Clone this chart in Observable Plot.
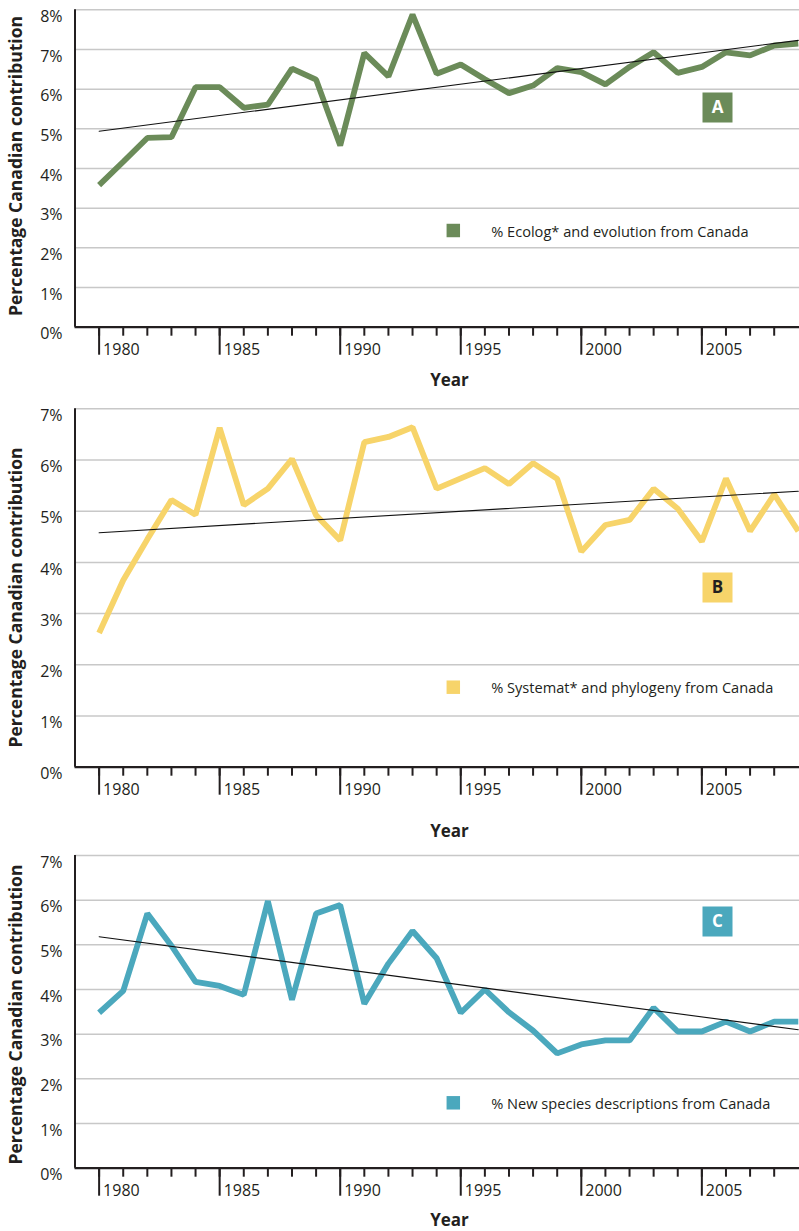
<!DOCTYPE html>
<html>
<head>
<meta charset="utf-8">
<script src="https://cdn.jsdelivr.net/npm/d3@7"></script>
<script src="https://cdn.jsdelivr.net/npm/@observablehq/plot@0.6"></script>
<style>
  html, body { margin: 0; padding: 0; background: #fff; }
  #chart { width: 799px; }
  #chart svg { display: block; }
</style>
</head>
<body>
<div id="chart"></div>
<script>
// ---- data ----
const years = [1980,1981,1982,1983,1984,1985,1986,1987,1988,1989,1990,1991,1992,1993,1994,1995,1996,1997,1998,1999,2000,2001,2002,2003,2004,2005,2006,2007,2008,2009];
const ecology = [3.58,4.17,4.77,4.79,6.05,6.05,5.53,5.61,6.52,6.24,4.58,6.91,6.32,7.88,6.39,6.62,6.25,5.90,6.09,6.53,6.43,6.12,6.56,6.93,6.41,6.56,6.93,6.85,7.10,7.15];
const systematics = [2.62,3.65,4.45,5.22,4.93,6.63,5.12,5.44,6.02,4.92,4.43,6.35,6.45,6.64,5.44,5.64,5.84,5.53,5.94,5.63,4.21,4.73,4.83,5.44,5.05,4.41,5.64,4.61,5.33,4.61];
const newSpecies = [3.48,3.97,5.70,4.98,4.17,4.08,3.88,5.98,3.77,5.70,5.89,3.68,4.58,5.31,4.70,3.48,4.00,3.49,3.08,2.57,2.77,2.86,2.86,3.59,3.06,3.06,3.28,3.06,3.28,3.28];
const trendYears = [1980, 2009];
const trendEcology = [4.94, 7.23];
const trendSystematics = [4.58, 5.39];
const trendNewSpecies = [5.18, 3.10];
const tickYears = [1980,1981,1982,1983,1984,1985,1986,1987,1988,1989,1990,1991,1992,1993,1994,1995,1996,1997,1998,1999,2000,2001,2002,2003,2004,2005,2006,2007,2008];
const majorYears = [1980,1985,1990,1995,2000,2005];
const yTicksA = [0,1,2,3,4,5,6,7,8];
const yTicksBC = [0,1,2,3,4,5,6,7];
const panelLetters = ["A","B","C"];
const legendLabels = ["% Ecolog* and evolution from Canada", "% Systemat* and phylogeny from Canada", "% New species descriptions from Canada"];
const yTitle = "Percentage Canadian contribution";
const xTitle = "Year";

// ---- drawing ----
const ink = "#231f20";
const left = 74.5;

function panel(cfg) {
  const rows = years.map((y, i) => ({year: y, value: cfg.values[i]}));
  const trend = trendYears.map((y, i) => ({year: y, value: cfg.trend[i]}));
  return Plot.plot({
    width: 799,
    height: cfg.height,
    marginTop: cfg.marginTop,
    marginBottom: cfg.marginBottom,
    marginLeft: left,
    marginRight: 0,
    style: {fontFamily: "'Open Sans', sans-serif", color: ink, background: "#fff", overflow: "visible"},
    x: {domain: [1979, 2009.05]},
    y: {domain: [0, cfg.yMax]},
    marks: [
      Plot.gridY(cfg.yTicks.slice(1), {stroke: "#c8c8c8", strokeOpacity: 1, strokeWidth: 1.5}),
      Plot.axisY(cfg.yTicks, {tickSize: 0, tickPadding: 12.5, dy: 7, fontSize: 16, fill: ink, tickFormat: d => d + "%", label: null}),
      Plot.axisX(tickYears, {tickSize: 9, tickFormat: () => "", stroke: ink, strokeWidth: 2, label: null}),
      Plot.axisX(majorYears, {tickSize: 28, tickFormat: () => "", stroke: ink, strokeWidth: 2, label: null}),
      Plot.axisX(majorYears, {tickSize: 0, tickPadding: 16.5, textAnchor: "start", dx: 4, fontSize: 16, fill: ink, tickFormat: d => String(d), label: null}),
      Plot.ruleX([1979], {stroke: ink, strokeWidth: 2}),
      Plot.ruleY([0], {stroke: ink, strokeWidth: 2.2}),
      Plot.line(rows, {x: "year", y: "value", stroke: cfg.color, strokeWidth: 5.8, strokeLinejoin: "miter", strokeLinecap: "butt"}),
      Plot.line(trend, {x: "year", y: "value", stroke: "#111", strokeWidth: 1.1}),
      // panel badge
      Plot.dot([cfg.letter], {frameAnchor: "top-left", dx: 642.5, dy: cfg.badgeDy, symbol: "square", r: 16.93, fill: cfg.color, stroke: "none"}),
      Plot.text([cfg.letter], {frameAnchor: "top-left", dx: 642.5, dy: cfg.badgeDy + 0.5, text: d => d, textAnchor: "middle", lineAnchor: "middle", fontSize: 17, fontWeight: "bold", fill: cfg.letterColor}),
      // legend
      Plot.dot([cfg.legend], {frameAnchor: "top-left", dx: 378.3, dy: cfg.legendDy, symbol: "square", r: 7.6, fill: cfg.color, stroke: "none"}),
      Plot.text([cfg.legend], {frameAnchor: "top-left", dx: 416.2, dy: cfg.legendDy + 1.5, text: d => d, textAnchor: "start", lineAnchor: "middle", fontSize: 14.6, fill: ink}),
      // axis titles
      Plot.text([yTitle], {frameAnchor: "left", dx: -59, dy: cfg.titleDy, rotate: -90, text: d => d, textAnchor: "middle", lineAnchor: "middle", fontSize: 17.5, fontWeight: "bold", fill: ink}),
      Plot.text([xTitle], {frameAnchor: "bottom-left", dx: 374.5, dy: cfg.yearDy, text: d => d, textAnchor: "middle", lineAnchor: "middle", fontSize: 17, fontWeight: "bold", fill: ink})
    ]
  });
}

const chart = document.getElementById("chart");
chart.append(panel({
  values: ecology, trend: trendEcology, color: "#6b8b59", letter: panelLetters[0], letterColor: "#fff",
  legend: legendLabels[0], yMax: 8, yTicks: yTicksA,
  height: 392, marginTop: 9.3, marginBottom: 65.3,
  badgeDy: 97.7, legendDy: 220.7, titleDy: -2.5, yearDy: 53.5
}));
chart.append(panel({
  values: systematics, trend: trendSystematics, color: "#f7d46a", letter: panelLetters[1], letterColor: ink,
  legend: legendLabels[1], yMax: 7, yTicks: yTicksBC,
  height: 448, marginTop: 16.3, marginBottom: 73.3,
  badgeDy: 178.7, legendDy: 278.4, titleDy: 9.5, yearDy: 64
}));
chart.append(panel({
  values: newSpecies, trend: trendNewSpecies, color: "#4ba8bd", letter: panelLetters[2], letterColor: "#fff",
  legend: legendLabels[2], yMax: 7, yTicks: yTicksBC,
  height: 391, marginTop: 15, marginBottom: 63.3,
  badgeDy: 66, legendDy: 247.3, titleDy: 2.7, yearDy: 52.5
}));
</script>
</body>
</html>
